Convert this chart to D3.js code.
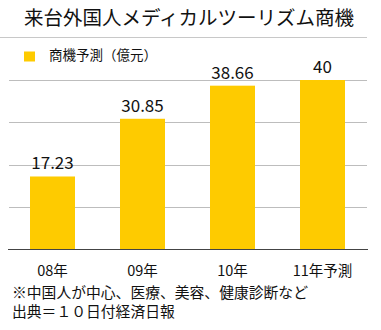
<!DOCTYPE html>
<html>
<head>
<meta charset="utf-8">
<script src="https://cdn.jsdelivr.net/npm/d3@7"></script>
<style>
  html, body { margin: 0; padding: 0; background: #fff; }
  svg { display: block; font-family: "Noto Sans CJK JP", "Noto Sans", sans-serif; }
</style>
</head>
<body>
<svg id="chart" width="381" height="330"></svg>
<script>
// Chart data
const titleText = "来台外国人メディカルツーリズム商機";
const legendLabel = "商機予測（億元）";
const categories = ["08年", "09年", "10年", "11年予測"];
const values = [17.23, 30.85, 38.66, 40];
const valueLabels = ["17.23", "30.85", "38.66", "40"];
const gridTicks = [10, 20, 30, 40];
const notes = ["※中国人が中心、医療、美容、健康診断など", "出典＝１０日付経済日報"];

const svg = d3.select("#chart");
const barColor = "#fecb00";

const x = d3.scaleBand()
  .domain(categories)
  .range([7.5, 367.5])
  .paddingInner(0.5)
  .paddingOuter(0.25);

const y = d3.scaleLinear()
  .domain([0, 40])
  .range([249.5, 80]);

// Title and separator
svg.append("text")
  .attr("x", 189)
  .attr("y", 24.5)
  .attr("text-anchor", "middle")
  .attr("font-size", 19.5)
  .attr("fill", "#111")
  .text(titleText);

svg.append("line")
  .attr("x1", 0).attr("x2", 367)
  .attr("y1", 37.5).attr("y2", 37.5)
  .attr("stroke", "#c8c8c8")
  .attr("stroke-width", 1);

// Legend
svg.append("rect")
  .attr("x", 24).attr("y", 51.5)
  .attr("width", 11).attr("height", 10)
  .attr("fill", barColor);

svg.append("text")
  .attr("x", 49).attr("y", 59.5)
  .attr("font-size", 13.5)
  .attr("fill", "#111")
  .text(legendLabel);

// Horizontal gridlines
svg.append("g")
  .selectAll("line")
  .data(gridTicks)
  .join("line")
  .attr("x1", 9).attr("x2", 367)
  .attr("y1", d => Math.round(y(d)) + 0.5)
  .attr("y2", d => Math.round(y(d)) + 0.5)
  .attr("stroke", "#bdbdbd")
  .attr("stroke-width", 1);

// Bars
svg.append("g")
  .selectAll("rect")
  .data(values)
  .join("rect")
  .attr("x", (d, i) => x(categories[i]))
  .attr("y", d => y(d))
  .attr("width", x.bandwidth())
  .attr("height", d => y(0) - y(d))
  .attr("fill", barColor);

// Value labels
svg.append("g")
  .selectAll("text")
  .data(values)
  .join("text")
  .attr("x", (d, i) => x(categories[i]) + x.bandwidth() / 2)
  .attr("y", d => y(d) - 7)
  .attr("text-anchor", "middle")
  .attr("font-size", 17)
  .attr("fill", "#111")
  .text((d, i) => valueLabels[i]);

// Baseline axis with category labels
const xAxis = svg.append("g")
  .attr("transform", `translate(0,${y(0)})`)
  .call(d3.axisBottom(x).tickSize(0).tickPadding(0));
xAxis.select(".domain").remove();
xAxis.selectAll("text")
  .attr("dy", null)
  .attr("y", 26.5)
  .attr("font-size", 14.5)
  .attr("font-family", "\"Noto Sans CJK JP\", sans-serif")
  .attr("fill", "#111");

svg.append("line")
  .attr("x1", 8).attr("x2", 368)
  .attr("y1", y(0)).attr("y2", y(0))
  .attr("stroke", "#444")
  .attr("stroke-width", 1);

// Footnotes
svg.append("g")
  .selectAll("text")
  .data(notes)
  .join("text")
  .attr("x", 12)
  .attr("y", (d, i) => 298 + i * 19)
  .attr("font-size", 14.8)
  .attr("fill", "#111")
  .text(d => d);
</script>
</body>
</html>
